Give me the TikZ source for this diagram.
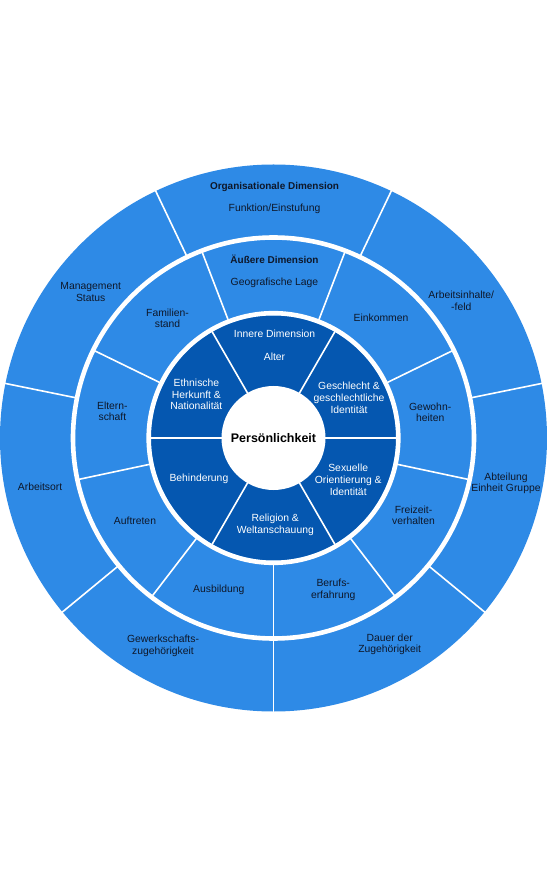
\documentclass[tikz,border=0pt]{standalone}
\usepackage{fontspec}
\setmainfont{Liberation Sans}
\definecolor{ringblue}{HTML}{2E8AE6}
\definecolor{coreblue}{HTML}{0557B0}
\definecolor{labelink}{HTML}{0E1729}

\tikzset{
    sep/.style={white, line width=1.6bp},
    gap/.style={white, line width=4.6bp},
    lbl/.style={align=center, inner sep=0pt, text=labelink, font=\fontsize{10.4}{11.4}\selectfont},
    ttl/.style={lbl, font=\fontsize{10}{11}\selectfont\bfseries},
    core/.style={lbl, text=white, font=\fontsize{10.4}{11.9}\selectfont}
}

\begin{document}
\begin{tikzpicture}[x=1bp, y=1bp]
    \useasboundingbox (-273.5,-439) rectangle (273.5,438);

    % Rings
    \fill[ringblue] (0,0) circle (273.5);
    \draw[gap] (0,0) circle (200.5);
    \fill[coreblue] (0,0) circle (122.5);
    \draw[gap] (0,0) circle (124.8);
    \fill[white] (0,0) circle (52);

    % Separators
    \foreach \a in {11.5, 64.5, 115.5, 168.5, 219.5, 270, 320.5}
        \draw[sep] (\a:200) -- (\a:275);
    \foreach \a in {26, 69, 111, 154, 192, 232.5, 270, 307.5, 348}
        \draw[sep] (\a:124) -- (\a:201);
    \foreach \a in {0, 60, 120, 180, 240, 300}
        \draw[sep] (\a:50) -- (\a:123);

    % Organisationale Dimension
    \node[ttl] (orgdim) at (1, 251.3) {Organisationale Dimension};
    \node[lbl] (funktion) at (1, 228.7) {Funktion/Einstufung};
    \node[lbl] (management) at (-182.8, 146) {Management\\Status};
    \node[lbl] (arbeitsinhalt) at (187.8, 137.3) {Arbeitsinhalte/\\-feld};
    \node[lbl] (arbeitsort) at (-233.4, -48.7) {Arbeitsort};
    \node[lbl] (abteilung) at (232.5, -45.2) {Abteilung\\Einheit Gruppe};
    \node[lbl] (gewerkschaft) at (-110.5, -207.8) {Gewerkschafts-\\zugehörigkeit};
    \node[lbl] (dauer) at (116.2, -206.2) {Dauer der\\Zugehörigkeit};

    % Äußere Dimension
    \node[ttl] (aussendim) at (1, 178.3) {Äußere Dimension};
    \node[lbl] (geo) at (1, 154.7) {Geografische Lage};
    \node[lbl] (familie) at (-106, 119.8) {Familien-\\stand};
    \node[lbl] (einkommen) at (107.5, 120.3) {Einkommen};
    \node[lbl] (eltern) at (-161.1, 26.5) {Eltern-\\schaft};
    \node[lbl] (gewohn) at (156.7, 26) {Gewohn-\\heiten};
    \node[lbl] (auftreten) at (-138.5, -82.7) {Auftreten};
    \node[lbl] (freizeit) at (140, -77.5) {Freizeit-\\verhalten};
    \node[lbl] (ausbildung) at (-54.7, -152.3) {Ausbildung};
    \node[lbl] (beruf) at (59.7, -152) {Berufs-\\erfahrung};

    % Innere Dimension
    \node[core] (innendim) at (1, 104) {Innere Dimension};
    \node[core] (alter) at (1, 81.3) {Alter};
    \node[core] (ethnie) at (-77.1, 43.7) {Ethnische\\Herkunft \&\\Nationalität};
    \node[core] (geschlecht) at (75.5, 40.3) {Geschlecht \&\\geschlechtliche\\Identität};
    \node[core] (behinderung) at (-74.6, -41) {Behinderung};
    \node[core] (sexuell) at (74.7, -41.7) {Sexuelle\\Orientierung \&\\Identität};
    \node[core] (religion) at (1.8, -87.2) {Religion \&\\Weltanschauung};

    % Kern
    \node[lbl, text=black, font=\fontsize{12.5}{14}\selectfont\bfseries] (person) at (0, 0) {Persönlichkeit};
\end{tikzpicture}
\end{document}
